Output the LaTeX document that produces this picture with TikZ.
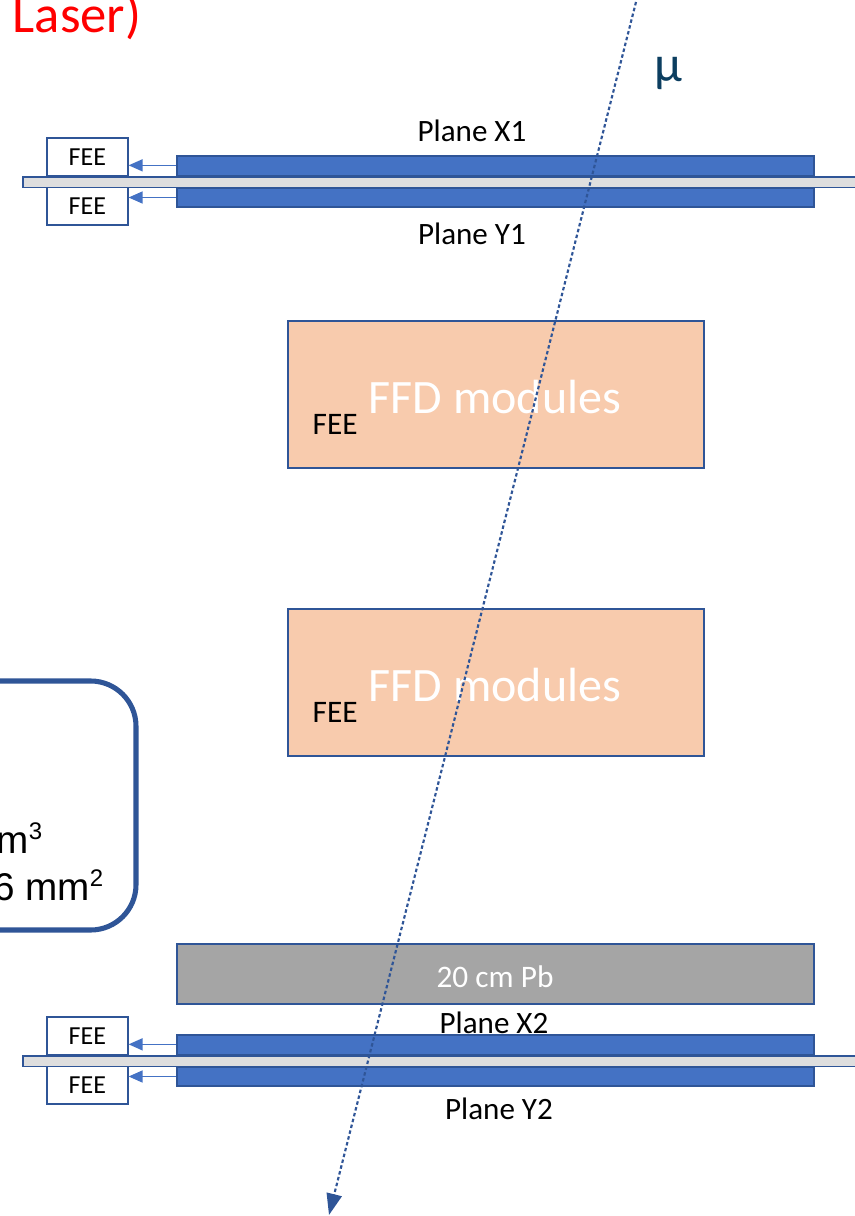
\documentclass[tikz,border=0pt]{standalone}
\usepackage{fontspec}
\setmainfont{Carlito}
\newfontfamily\boxfont{Liberation Sans}
\usetikzlibrary{arrows.meta,positioning}
\definecolor{barblue}{RGB}{68,114,196}
\definecolor{edgeblue}{RGB}{47,85,151}
\definecolor{railgray}{RGB}{222,222,222}
\definecolor{ffdpeach}{RGB}{248,203,173}
\definecolor{pbgray}{RGB}{165,165,165}
\definecolor{muteal}{RGB}{12,62,96}
\newcommand{\upidx}[1]{\raisebox{0.36em}{\fontsize{18}{18}\selectfont #1}}
\begin{document}
\begin{tikzpicture}[x=0.75pt,y=-0.75pt,
  plane/.style={rectangle,draw=edgeblue,line width=1.5pt,fill=barblue,inner sep=0pt,
                minimum width=477.75pt,minimum height=15pt,anchor=north west},
  rail/.style={rectangle,draw=edgeblue,line width=1.2pt,fill=railgray,inner sep=0pt,
               minimum width=640pt,minimum height=8pt,anchor=north west},
  fee/.style={rectangle,draw=edgeblue,line width=1.2pt,fill=white,inner sep=0pt,
              minimum width=60.75pt,minimum height=28.5pt,anchor=north west,
              font=\fontsize{19.5}{22}\selectfont},
  feed/.style={-{Triangle[length=10.5pt,width=9pt]},draw=barblue,line width=1.1pt},
  ffd/.style={rectangle,draw=edgeblue,line width=1.2pt,fill=ffdpeach,inner sep=0pt,
              minimum width=312pt,minimum height=110.25pt,anchor=north west},
  label/.style={anchor=base,font=\fontsize{23.3}{27}\selectfont},
  muon/.style={draw=edgeblue,line width=1.6pt,dash pattern=on 2.6pt off 1.9pt,
               -{Triangle[length=16pt,width=11.5pt]}},
]
\useasboundingbox (0,0) rectangle (854,1216);
% Title fragment
\node[anchor=base west,text=red,font=\fontsize{39.5}{46}\selectfont] (title) at (8,33) {Laser)};
% Tracking stations: plane X above the rail, plane Y below
\foreach \y/\n in {155/1,1034/2}{
  \node[fee] (feeX\n) at (46,\y-18) {FEE};
  \node[fee] (feeY\n) at (46,\y+31) {FEE};
  \node[plane] (X\n) at (176,\y) {};
  \node[plane,minimum height=14.25pt] (Y\n) at (176,\y+32) {};
  \node[rail] (rail\n) at (22,\y+21) {};
  \draw[feed] ([yshift=0.5pt]X\n.west) -- ([yshift=0.5pt]X\n.west -| feeX\n.east);
  \draw[feed] (Y\n.west) -- (Y\n.west -| feeY\n.east);
}
\node[label] (lx1) at (472,142) {Plane X1};
\node[label] (ly1) at (472,244) {Plane Y1};
\node[label] (lx2) at (494,1033) {Plane X2};
\node[label] (ly2) at (499,1119) {Plane Y2};
% FFD modules
\foreach \y/\n in {320/1,608/2}{
  \node[ffd] (ffd\n) at (287,\y) {};
  \node[anchor=base,text=white,font=\fontsize{36}{42}\selectfont] (ffdtxt\n) at (495,\y+93) {FFD modules};
  \node[anchor=base west,font=\fontsize{23.5}{27}\selectfont] (ffdfee\n) at (308,\y+114) {FEE};
}
% Lead absorber
\node[rectangle,draw=edgeblue,line width=1.5pt,fill=pbgray,inner sep=0pt,
      minimum width=477.75pt,minimum height=45pt,anchor=north west] (pb) at (176,943) {};
\node[anchor=base,text=white,font=\fontsize{23.5}{27}\selectfont] (pbtxt) at (495,987) {20 cm Pb};
% Info box, cut at the left edge
\draw[draw=edgeblue,line width=3.8pt,rounded corners=34pt] (-120,681) rectangle (136,930);
\node[anchor=base east,font=\boxfont\fontsize{29}{34}\selectfont] (vol) at (47,853) {m\upidx{3}};
\node[anchor=base east,font=\boxfont\fontsize{29}{34}\selectfont] (area) at (108,900) {6 mm\upidx{2}};
% Muon track
\coordinate (mu in) at (636,2);
\coordinate (mu out) at (329,1215);
\draw[muon] (mu in) -- (mu out);
\node[anchor=base,text=muteal,font=\fontsize{38}{44}\selectfont] (mu) at (668,82) {μ};
\end{tikzpicture}
\end{document}
